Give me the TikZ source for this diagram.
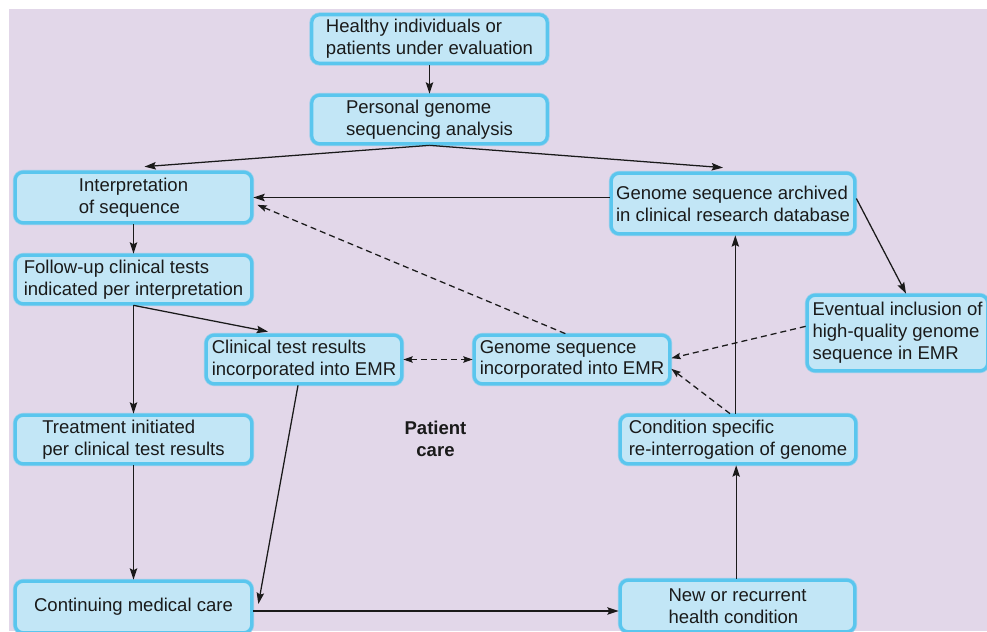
\documentclass[tikz,border=0pt]{standalone}
\usepackage{fontspec}
\setmainfont{Liberation Sans}
\usetikzlibrary{arrows.meta,calc}
\definecolor{bgpurple}{HTML}{E2D7E9}
\definecolor{boxfill}{HTML}{C2E6F6}
\definecolor{boxedge}{HTML}{5AC6EE}
\definecolor{ink}{HTML}{1A1A1A}
\tikzset{
  box/.style={rounded corners=6pt, fill=boxfill, draw=boxedge, line width=2.4pt,
    preaction={draw=boxedge!55!bgpurple, line width=3.6pt},
    align=left, inner sep=0pt, text=ink, font=\fontsize{13.9}{16.4}\selectfont},
  sz/.style 2 args={minimum width=(#1-4.5)*0.75pt, minimum height=(#2-4.5)*0.75pt},
  arr/.style={draw=ink, line width=0.95pt, -{Stealth[length=8.5pt,width=5.6pt,inset=1.4pt]}},
  darr/.style={draw=ink, line width=0.95pt, dash pattern=on 4.5pt off 3pt,
    -{Stealth[length=7pt,width=4.8pt,inset=1.1pt]}},
  ddarr/.style={draw=ink, line width=0.95pt, dash pattern=on 4.5pt off 3pt,
    {Stealth[length=7pt,width=4.8pt,inset=1.1pt]}-{Stealth[length=7pt,width=4.8pt,inset=1.1pt]}},
}
\begin{document}
\begin{tikzpicture}[x=0.75pt,y=-0.75pt]
\useasboundingbox (0,0) rectangle (987,631);
\clip (0,0) rectangle (987,631);
\fill[bgpurple] (9,9) rectangle (987,631);

% boxes
\node[box, sz={240}{53}] (hea) at (429.5,39) {Healthy individuals or\\patients under evaluation};
\node[box, sz={240}{53}] (pers) at (429.5,119.5) {Personal genome\\sequencing analysis};
\node[box, sz={241}{55}] (interp) at (133.5,197.5) {Interpretation\\of sequence};
\node[box, sz={248}{65}] (arch) at (733,203.5) {Genome sequence archived\\in clinical research database};
\node[box, sz={241}{53}] (fol) at (133.5,279.5) {Follow-up clinical tests\\indicated per interpretation};
\node[box, sz={200}{53}] (clin) at (304,359.5) {Clinical test results\\incorporated into EMR};
\node[box, sz={200}{53}] (gemr) at (572,359.5) {Genome sequence\\incorporated into EMR};
\node[box, sz={185}{80}] (ev) at (897.5,333) {Eventual inclusion of\\high-quality genome\\sequence in EMR};
\node[box, sz={241}{53}] (treat) at (133.5,439.5) {Treatment initiated\\per clinical test results};
\node[box, sz={240}{53}] (cond) at (738,439.5) {Condition specific\\re-interrogation of genome};
\node[box, sz={241}{56}] (cont) at (133.5,607) {Continuing medical care};
\node[box, sz={239}{56}] (new) at (737.5,606) {New or recurrent\\health condition};
\node[align=center, inner sep=0pt, text=ink, font=\fontsize{13.9}{16.4}\selectfont\bfseries] (pc) at (435.5,439) {Patient\\care};

% connectors
\draw[arr] (hea) -- (pers);
\draw[arr] (pers.south) -- ([xshift=8.25pt,yshift=3pt]interp.north);
\draw[arr] (pers.south) -- ([xshift=-7.5pt,yshift=3pt]arch.north);
\draw[arr] (arch.west |- interp.east) -- (interp.east);
\draw[darr] ([xshift=-5pt]gemr.north) -- ([xshift=3pt,yshift=-5.5pt]interp.east);
\draw[arr] (interp) -- (fol);
\draw[arr] (fol) -- (treat);
\draw[arr] (fol.south) -- ([xshift=-27pt,yshift=1.5pt]clin.north);
\draw[ddarr] (clin) -- (gemr);
\draw[darr] ([yshift=5pt]ev.west) -- ([yshift=1pt]gemr.east);
\draw[darr] ([xshift=-6pt]cond.north) -- ([yshift=-7pt]gemr.east);
\draw[arr] ([xshift=-2pt]cond.north) -- ([xshift=-2pt]cond.north |- arch.south);
\draw[arr] ([yshift=3.75pt]arch.east) -- ([xshift=6.4pt]ev.north);
\draw[arr] (treat) -- (cont);
\draw[arr] ([xshift=-4.5pt]clin.south) -- ([xshift=3.75pt,yshift=2.25pt]cont.east);
\draw[arr] ([yshift=-3pt]cont.east) -- ([yshift=-3pt]cont.east -| new.west);
\draw[arr] ([xshift=-1pt]new.north) -- ([xshift=-1pt]new.north |- cond.south);
\end{tikzpicture}
\end{document}
